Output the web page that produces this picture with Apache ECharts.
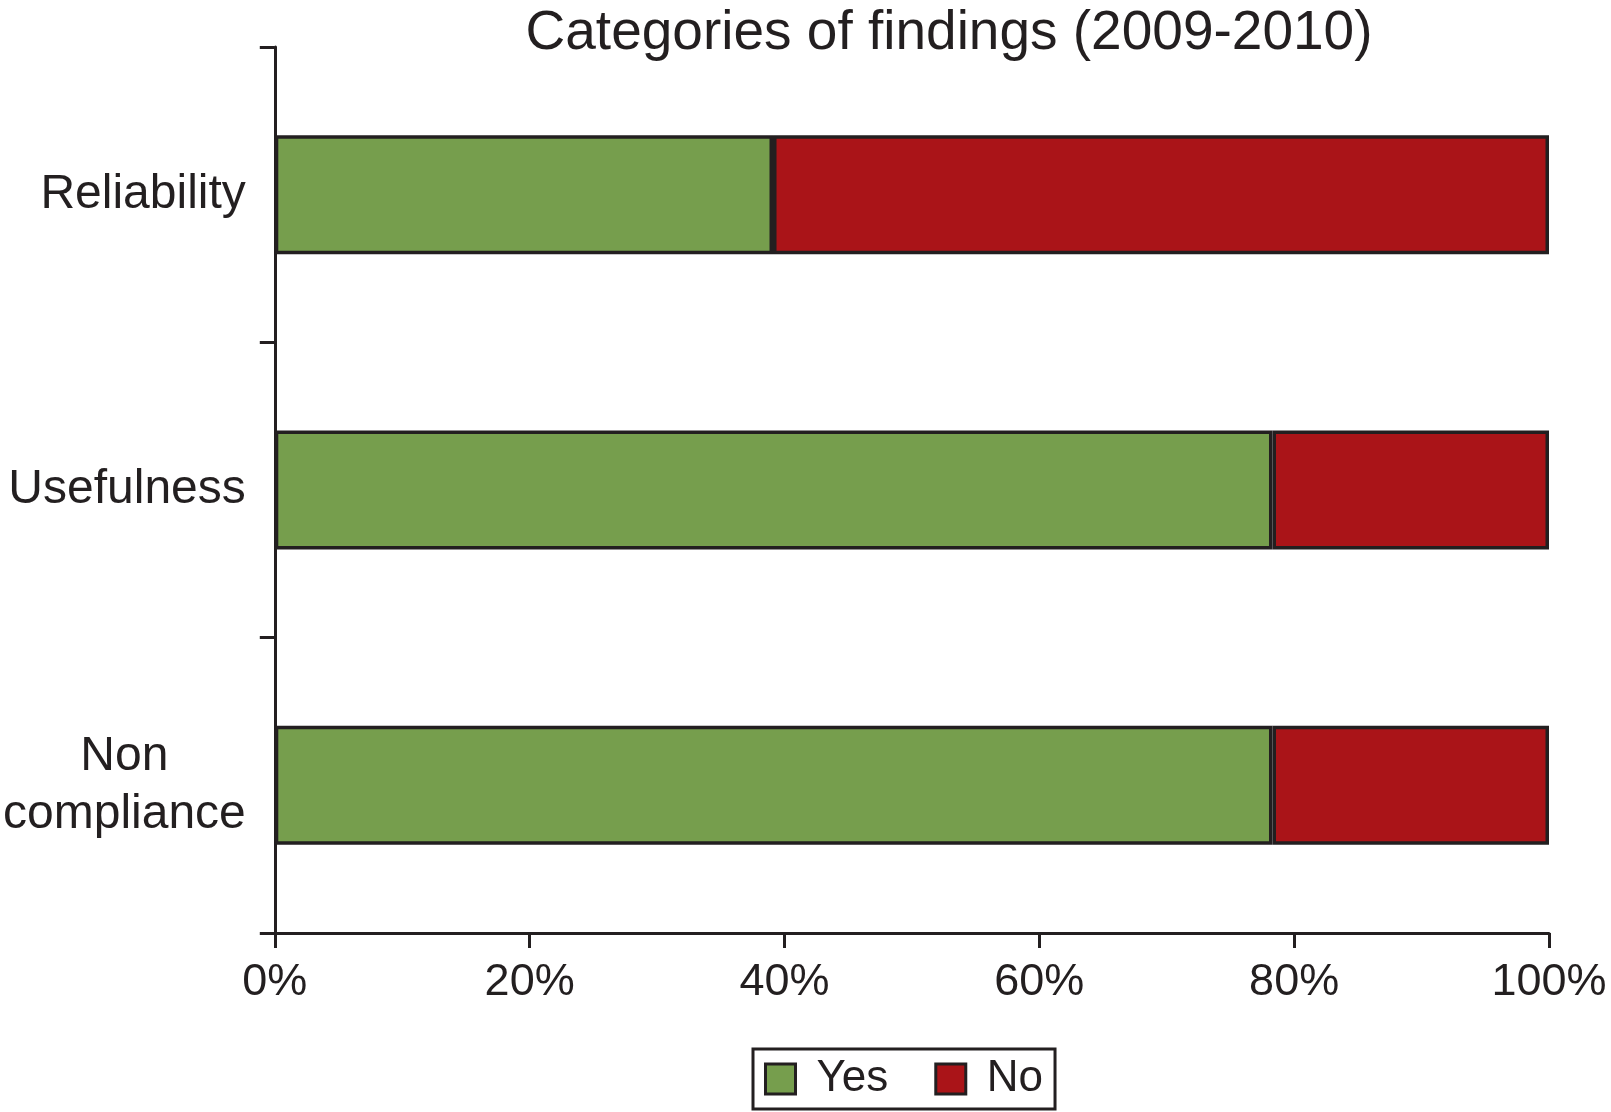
<!DOCTYPE html>
<html>
<head>
<meta charset="utf-8">
<script src="https://cdn.jsdelivr.net/npm/echarts@6/dist/echarts.min.js"></script>
<style>
html,body{margin:0;padding:0;background:#fff;}
#chart{width:1611px;height:1112px;}
</style>
</head>
<body>
<div id="chart"></div>
<script>
const titleText = 'Categories of findings (2009-2010)';
const categories = ['Reliability', 'Usefulness', 'Non\ncompliance'];
const yesValues = [39.1, 78.3, 78.3];
const noValues = [60.9, 21.7, 21.7];
const seriesNames = ['Yes', 'No'];
const xTicks = [0, 20, 40, 60, 80, 100];

const ink = '#231f20';
const font = '"Liberation Sans", Arial, Helvetica, sans-serif';

const chart = echarts.init(document.getElementById('chart'), null, {renderer: 'canvas'});
chart.setOption({
  backgroundColor: '#ffffff',
  animation: false,
  title: {
    text: titleText,
    left: 949,
    top: 6,
    padding: 0,
    textAlign: 'center',
    textStyle: {fontFamily: font, fontSize: 55, fontWeight: 'normal', color: ink}
  },
  legend: {
    data: seriesNames,
    left: 753,
    top: 1049,
    orient: 'horizontal',
    itemWidth: 30,
    itemHeight: 30,
    itemGap: 46,
    padding: [7, 12, 7, 11],
    borderColor: ink,
    borderWidth: 3,
    icon: 'rect',
    itemStyle: {borderColor: ink, borderWidth: 3},
    textStyle: {fontFamily: font, fontSize: 44, color: ink, lineHeight: 46, padding: [0, 0, 0, 16]}
  },
  grid: {left: 274, right: 62, top: 47, bottom: 179, containLabel: false},
  xAxis: {
    type: 'value',
    min: xTicks[0],
    max: xTicks[xTicks.length - 1],
    interval: 20,
    axisLine: {show: true, lineStyle: {color: ink, width: 3}},
    axisTick: {show: true, length: 15, lineStyle: {color: ink, width: 3}},
    splitLine: {show: false},
    axisLabel: {
      formatter: '{value}%',
      margin: 27,
      fontFamily: font,
      fontSize: 45,
      color: ink
    }
  },
  yAxis: {
    type: 'category',
    data: categories,
    inverse: true,
    boundaryGap: true,
    axisLine: {show: true, lineStyle: {color: ink, width: 3}},
    axisTick: {show: true, length: 15, alignWithLabel: false, lineStyle: {color: ink, width: 3}},
    axisLabel: {
      margin: 29,
      formatter: function (v) {
        return v.split('\n').map(function (l) { return '{c|' + l + '}'; }).join('\n');
      },
      rich: {
        c: {fontFamily: font, fontSize: 48, color: ink, align: 'center', lineHeight: 58}
      }
    }
  },
  series: [
    {
      name: seriesNames[0],
      type: 'bar',
      stack: 'total',
      barWidth: 119,
      data: yesValues,
      itemStyle: {color: '#769e4d', borderColor: ink, borderWidth: 3.5}
    },
    {
      name: seriesNames[1],
      type: 'bar',
      stack: 'total',
      barWidth: 119,
      data: noValues,
      itemStyle: {color: '#aa1418', borderColor: ink, borderWidth: 3.5}
    }
  ]
});
</script>
</body>
</html>
